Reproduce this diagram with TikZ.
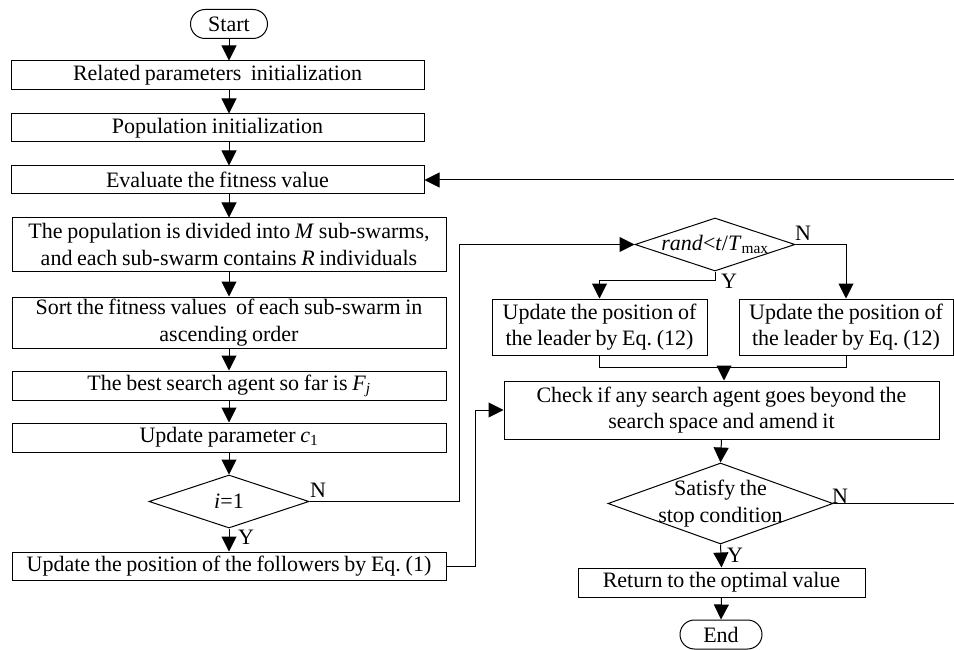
\documentclass[tikz,border=0pt]{standalone}
\usepackage{fontspec}
\setmainfont[WordSpace=0.85]{Liberation Serif}
\usetikzlibrary{arrows.meta,shapes.geometric,calc}
\begin{document}
\frenchspacing
\begin{tikzpicture}[x=1pt,y=-1pt,
  font=\fontsize{22}{26.5}\selectfont\frenchspacing,
  line width=1pt,
  arr/.style={-{Triangle[length=15pt,width=15pt]}},
  proc/.style={draw,rectangle,inner sep=0pt,align=flush center},
  term/.style={draw,rectangle,rounded corners=14.5pt,inner sep=0pt,minimum width=77pt,minimum height=29pt},
  dec/.style={draw,diamond,inner sep=0pt},
  lbl/.style={inner sep=0pt}
]
\useasboundingbox (0,0) rectangle (954,650);
% left column
\node[term] (start) at (229,24) {Start};
\node[proc,minimum width=413pt,minimum height=29pt] (b1) at (217.5,75.5) {Related parameters\ \ initialization};
\node[proc,minimum width=413pt,minimum height=28pt] (b2) at (217.5,128) {Population initialization};
\node[proc,minimum width=413pt,minimum height=28pt] (b3) at (217.5,180) {Evaluate the fitness value};
\node[proc,minimum width=434pt,minimum height=53pt,text width=430pt] (b4) at (229,244.5) {The population is divided into \textit{M} sub-swarms,\\and each sub-swarm contains \textit{R} individuals};
\node[proc,minimum width=434pt,minimum height=51pt,text width=430pt] (b5) at (229,322.5) {Sort the fitness values\ \ of each sub-swarm in\\ascending order};
\node[proc,minimum width=434pt,minimum height=29pt] (b6) at (229,385.5) {The best search agent so far is \textit{F\textsubscript{j}}};
\node[proc,minimum width=434pt,minimum height=29pt] (b7) at (229,437.5) {Update parameter \textit{c}\textsubscript{1}};
\node[dec,minimum width=160pt,minimum height=53pt,label={center:\textit{i}=1}] (d1) at (229,501.5) {};
\node[proc,minimum width=434pt,minimum height=28pt] (b8) at (229,566) {Update the position of the followers by Eq. (1)};
% right column
\node[dec,minimum width=160pt,minimum height=53pt,label={center:\textit{rand}<\textit{t}/\textit{T}\textsubscript{max}}] (d2) at (715,244.5) {};
\node[proc,minimum width=215pt,minimum height=56pt,text width=211pt] (l1) at (599.5,327) {Update the position of\\the leader by Eq. (12)};
\node[proc,minimum width=214pt,minimum height=56pt,text width=210pt] (l2) at (846,327) {Update the position of\\the leader by Eq. (12)};
\node[proc,minimum width=435pt,minimum height=58pt,text width=431pt] (chk) at (721.5,410) {Check if any search agent goes beyond the\\search space and amend it};
\node[dec,minimum width=225pt,minimum height=81pt,label={[align=flush center]center:Satisfy the\\stop condition}] (d3) at (720.5,503.5) {};
\node[proc,minimum width=287pt,minimum height=29pt] (ret) at (721.5,582.5) {Return to the optimal value};
\node[term,minimum width=82pt] (end) at (721,634.5) {End};
\coordinate (rx) at (958,0);
% connectors
\draw[arr] (start.south) -- (start.south |- b1.north);
\draw[arr] (start.south |- b1.south) -- (start.south |- b2.north);
\draw[arr] (start.south |- b2.south) -- (start.south |- b3.north);
\draw[arr] (start.south |- b3.south) -- (b4.north);
\draw[arr] (b4.south) -- (b5.north);
\draw[arr] (b5.south) -- (b6.north);
\draw[arr] (b6.south) -- (b7.north);
\draw[arr] (b7.south) -- (d1.north);
\draw[arr] (d1.south) -- (b8.north);
\draw[arr] (d1.east) -- ++(150,0) |- (d2.west);
\draw[arr] (b8.east) -- ++(29,0) |- (chk.west);
\draw[arr] (d2.south) -- ++(0,9) -| (l1.north);
\draw[arr] (d2.east) -| (l2.north);
\draw (l1.south) -- ++(0,12) coordinate (m) -| (l2.south);
\draw[arr] ($(m -| chk.north)+(2.5,0)$) -- ($(chk.north)+(2.5,0)$);
\draw[arr] (chk.south) -- (d3.north);
\draw[arr] (d3.south) -- (ret.north);
\draw[arr] (ret.south) -- (end.north);
\draw[arr] (d3.east) -- (d3.east -| rx) -- (rx |- b3.east) -- (b3.east);
% branch labels
\node[lbl] (n1) at (318,490) {N};
\node[lbl] (y1) at (246,537) {Y};
\node[lbl] (n2) at (803,233) {N};
\node[lbl] (y2) at (729,281) {Y};
\node[lbl] (n3) at (840,496) {N};
\node[lbl] (y3) at (735,555) {Y};
\end{tikzpicture}
\end{document}
